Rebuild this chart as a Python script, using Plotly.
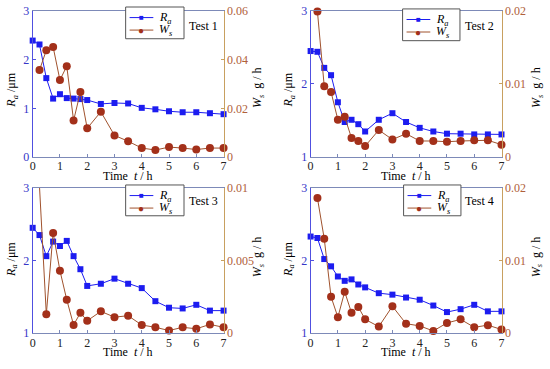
import plotly.graph_objects as go

time = [0, 0.25, 0.5, 0.75, 1, 1.25, 1.5, 1.75, 2, 2.5, 3, 3.5, 4, 4.5, 5, 5.5, 6, 6.5, 7]
time_ws = time[1:]

ra_1 = [2.39, 2.31, 1.62, 1.20, 1.29, 1.21, 1.20, 1.19, 1.17, 1.09, 1.11, 1.10, 1.01, 0.98, 0.94, 0.92, 0.92, 0.90, 0.88]
ws_1 = [0.0357, 0.0438, 0.0452, 0.0316, 0.0373, 0.0150, 0.0267, 0.0118, 0.0186, 0.0089, 0.0065, 0.0037, 0.0029, 0.0041, 0.0037, 0.0031, 0.0037, 0.0037]

ra_2 = [2.45, 2.44, 2.22, 2.12, 1.75, 1.48, 1.51, 1.45, 1.35, 1.51, 1.60, 1.48, 1.40, 1.35, 1.32, 1.32, 1.31, 1.31, 1.31]
ws_2 = [0.0199, 0.0097, 0.0089, 0.0051, 0.0055, 0.0026, 0.0022, 0.0015, 0.0037, 0.0024, 0.0032, 0.0022, 0.0022, 0.0021, 0.0022, 0.0023, 0.0023, 0.0017]

ra_3 = [2.45, 2.35, 2.06, 2.26, 2.20, 2.27, 2.06, 1.88, 1.65, 1.68, 1.75, 1.68, 1.62, 1.44, 1.35, 1.34, 1.39, 1.31, 1.31]
ws_3 = [0.0101, 0.0013, 0.0069, 0.0043, 0.0023, 0.00056, 0.0014, 0.00085, 0.0015, 0.0011, 0.0012, 0.00056, 0.0004, 0.00018, 0.0004, 0.0003, 0.0006, 0.0004]

ra_4 = [2.33, 2.31, 2.02, 1.92, 1.78, 1.72, 1.74, 1.67, 1.63, 1.55, 1.53, 1.49, 1.46, 1.38, 1.29, 1.33, 1.39, 1.30, 1.30]
ws_4 = [0.0186, 0.0130, 0.0050, 0.0022, 0.0057, 0.0028, 0.0036, 0.0019, 0.0009, 0.0037, 0.0013, 0.0010, 0.0003, 0.0014, 0.0019, 0.0008, 0.0011, 0.0005]

test_labels = ["Test 1", "Test 2", "Test 3", "Test 4"]
series_names = ["<i>R<sub>a</sub></i>", "<i>W<sub>s</sub></i>"]
ra_ranges = [[0, 3], [1, 3], [1, 3], [1, 3]]
ra_ticks = [[0, 1, 2, 3], [1, 2, 3], [1, 2, 3], [1, 2, 3]]
ws_ranges = [[0, 0.06], [0, 0.02], [0, 0.01], [0, 0.02]]
ws_ticks = [[0, 0.02, 0.04, 0.06], [0, 0.01, 0.02], [0, 0.005, 0.01], [0, 0.01, 0.02]]
ws_ticktext = [["0", "0.02", "0.04", "0.06"], ["0", "0.01", "0.02"], ["0", "0.005", "0.01"], ["0", "0.01", "0.02"]]

ra_all = [ra_1, ra_2, ra_3, ra_4]
ws_all = [ws_1, ws_2, ws_3, ws_4]

W, H = 550, 369
FONT = "Liberation Serif, Times New Roman, serif"
BLUE = "#1c1cf0"
BROWN_M = "#a3301a"
BROWN_L = "#a0522d"

# panel pixel boxes: (left, right, top, bottom)
boxes = [(30, 223, 4, 156), (311, 504, 4, 156), (30, 223, 188, 339), (311, 504, 188, 339)]
legend_box = [(124, 0, 183, 33), (404, 2, 462, 35), (124, 185, 183, 217), (405, 185, 463, 217)]
test_pos = [(203, 20), (482, 20), (203, 202), (482, 202)]
xtitle_pos = [(126, 176), (407, 176), (126, 359), (407, 359)]
ltitle_pos = [(9, 86), (289, 86), (9, 262), (289, 262)]
rtitle_pos = [(258, 84), (540, 84), (258, 260), (540, 260)]

fig = go.Figure()
annotations = []
shapes = []
layout = dict(
    width=W, height=H, margin=dict(l=0, r=0, t=0, b=0),
    paper_bgcolor="white", plot_bgcolor="white",
    font=dict(family=FONT, size=12, color="black"),
    showlegend=False,
)

def px_ann(x, y, text, angle=0, color="black", size=12, xanchor="center"):
    return dict(x=x / W, y=1 - y / H, xref="paper", yref="paper", text=text,
                showarrow=False, textangle=angle, font=dict(family=FONT, size=size, color=color),
                xanchor=xanchor, yanchor="middle")

def px_line(x0, y0, x1, y1, color, width=1):
    return dict(type="line", xref="paper", yref="paper", x0=x0 / W, x1=x1 / W,
                y0=1 - y0 / H, y1=1 - y1 / H, line=dict(color=color, width=width))

for i in range(4):
    n = i + 1
    xa = "x" if n == 1 else f"x{n}"
    yl = 2 * i + 1
    yr = 2 * i + 2
    yla = "y" if yl == 1 else f"y{yl}"
    yra = f"y{yr}"
    fig.add_trace(go.Scatter(
        x=time, y=ra_all[i], mode="lines+markers", name=series_names[0],
        line=dict(color=BLUE, width=1), marker=dict(symbol="square", size=6, color=BLUE),
        xaxis=xa, yaxis=yla, cliponaxis=False))
    fig.add_trace(go.Scatter(
        x=time_ws, y=ws_all[i], mode="lines+markers", name=series_names[1],
        line=dict(color=BROWN_L, width=1), marker=dict(symbol="circle", size=8, color=BROWN_M),
        xaxis=xa, yaxis=yra, cliponaxis=False))

    l, r, t, b = boxes[i]
    xd = [l / W, r / W]
    yd = [1 - b / H, 1 - t / H]
    xkey = "xaxis" if n == 1 else f"xaxis{n}"
    ylkey = "yaxis" if yl == 1 else f"yaxis{yl}"
    yrkey = f"yaxis{yr}"
    layout[xkey] = dict(
        domain=xd, anchor=yla, range=[0, 7], tickvals=list(range(8)),
        showgrid=False, zeroline=False, showline=True, linecolor="#7d8ab8", linewidth=1,
        mirror=True, ticks="inside", ticklen=3, tickcolor="#7d8ab8",
        tickfont=dict(family=FONT, size=12, color="#222222"), ticklabelstandoff=-2,
    )
    layout[ylkey] = dict(
        domain=yd, anchor=xa, range=ra_ranges[i], tickvals=ra_ticks[i],
        showgrid=False, zeroline=False, showline=True, linecolor="#5050e0", linewidth=1,
        ticks="inside", ticklen=3, tickcolor="#5050e0",
        tickfont=dict(family=FONT, size=12, color="#3535c8"),
    )
    layout[yrkey] = dict(
        domain=yd, anchor=xa, overlaying=yla, side="right", range=ws_ranges[i],
        tickvals=ws_ticks[i], ticktext=ws_ticktext[i],
        showgrid=False, zeroline=False, showline=True, linecolor="#c8a060", linewidth=1,
        ticks="inside", ticklen=3, tickcolor="#c8a060",
        tickfont=dict(family=FONT, size=12, color="#b0603a"),
    )

    # legend box (drawn as shapes + text)
    bx0, by0, bx1, by1 = legend_box[i]
    shapes.append(dict(type="rect", xref="paper", yref="paper",
                       x0=bx0 / W, x1=bx1 / W, y0=1 - by1 / H, y1=1 - by0 / H,
                       line=dict(color="#555555", width=1), fillcolor="white", layer="above"))
    row1 = by0 + 11
    row2 = by0 + 24
    shapes.append(px_line(bx0 + 4, row1, bx0 + 28, row1, BLUE))
    shapes.append(px_line(bx0 + 4, row2, bx0 + 28, row2, BROWN_L))
    annotations.append(px_ann(bx0 + 16, row1, "■", color=BLUE, size=8))
    annotations.append(px_ann(bx0 + 16, row2 + 0.5, "●", color=BROWN_M, size=10))
    annotations.append(px_ann(bx0 + 32, row1, series_names[0], xanchor="left"))
    annotations.append(px_ann(bx0 + 32, row2, series_names[1], xanchor="left"))

    annotations.append(px_ann(*test_pos[i], test_labels[i]))
    annotations.append(px_ann(*xtitle_pos[i], "Time  <i>t</i> / h"))
    annotations.append(px_ann(*ltitle_pos[i], "<i>R<sub>a</sub></i> /μm", angle=-90))
    annotations.append(px_ann(*rtitle_pos[i], "<i>W<sub>s</sub></i>  g / h", angle=-90))

layout["annotations"] = annotations
layout["shapes"] = shapes
fig.update_layout(**layout)
fig.write_html("out.html", config={"displayModeBar": False},
               post_script="document.body.style.margin='0';document.body.style.overflow='hidden';")
